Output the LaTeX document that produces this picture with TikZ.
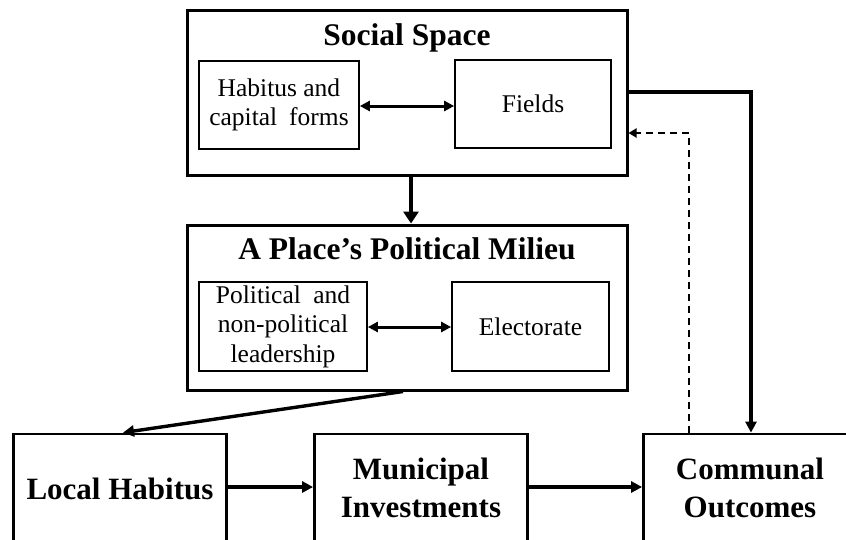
\documentclass[tikz,border=0pt]{standalone}
\usepackage{fontspec}
\setmainfont{Liberation Serif}
\usetikzlibrary{arrows.meta,calc}

\tikzset{
  outerbox/.style={draw, line width=3pt, inner sep=0pt},
  innerbox/.style={draw, line width=1.7pt, inner sep=0pt, align=center,
                   font=\fontsize{25.5}{29.5}\selectfont},
  lowbox/.style={draw, line width=2.8pt, inner sep=0pt, minimum width=213pt,
                 minimum height=126pt},
  titletext/.style={inner sep=0pt, anchor=base, font=\fontsize{31.5}{36}\selectfont\bfseries},
  bigtext/.style={inner sep=0pt, align=center, font=\fontsize{31}{38}\selectfont\bfseries},
  flow/.style={line width=3.4pt, -{Triangle[width=11pt,length=11pt]}},
  both/.style={line width=3pt, {Triangle[width=10pt,length=10pt]}-{Triangle[width=10pt,length=10pt]}},
  bigflow/.style={line width=4.6pt, -{Triangle[width=15pt,length=12pt]}},
  feedback/.style={line width=2pt, dash pattern=on 7pt off 5pt,
                   -{Triangle[width=9pt,length=8pt]}}
}

\begin{document}
\begin{tikzpicture}[x=1pt,y=-1pt]
  \fill[white] (0,0) rectangle (846,539);
  \useasboundingbox (0,0) rectangle (846,539);
  \clip (0,0) rectangle (846,539);

  % upper frame: social space
  \node[outerbox, minimum width=440pt, minimum height=165pt] (ss) at (407,92.5) {};
  \node[titletext] (sstitle) at (407,45) {Social Space};
  \node[innerbox, minimum width=160pt, minimum height=88pt] (hab) at (279,105)
    {Habitus and\\capital\hspace{12pt}forms};
  \node[innerbox, minimum width=156pt, minimum height=88pt] (fields) at (533,104) {Fields};

  % middle frame: political milieu
  \node[outerbox, minimum width=440pt, minimum height=165pt] (mil) at (407,307.5) {};
  \node[titletext] (miltitle) at (407,259) {A Place’s Political Milieu};
  \node[innerbox, minimum width=168pt, minimum height=89pt] (pol) at (283,326.5)
    {Political\hspace{6pt} and\\non-political\\leadership};
  \node[innerbox, minimum width=157pt, minimum height=89pt] (elec) at (530.5,326.5) {Electorate};

  % lower row
  \node[lowbox] (lh) at (120,497) {};
  \node[lowbox] (mun) at (421,497) {};
  \node[lowbox] (com) at (750,497) {};
  \node[titletext, font=\fontsize{31}{38}\selectfont\bfseries] (lhtext) at (120,499) {Local Habitus};
  \node[bigtext] (muntext) at (421,488) {Municipal\\Investments};
  \node[bigtext] (comtext) at (750,488) {Communal\\Outcomes};

  % helper coordinates for routed connectors
  \coordinate (row) at (0,487);
  \coordinate (sturn) at (751,92);
  \coordinate (dturn) at (689,133);

  % connectors
  \draw[both] ($(hab.east)+(0,1)$) -- ($(hab.east -| fields.west)+(0,1)$);
  \draw[both] ($(pol.east)+(0,0.5)$) -- ($(pol.east -| elec.west)+(0,0.5)$);
  \draw[bigflow] ($(ss.south)+(4,0)$) -- ($(mil.north)+(4,0)$);
  \draw[flow] ($(mil.south)+(-4,0)$) -- ($(lh.north)+(3,0)$);
  \draw[flow] (lh.east |- row) -- (mun.west |- row);
  \draw[flow] (mun.east |- row) -- (com.west |- row);
  \draw[flow] (ss.east |- sturn) -- (sturn) -- (sturn |- com.north);
  \draw[feedback] (dturn |- com.north) -- (dturn) -- (ss.east |- dturn);
\end{tikzpicture}
\end{document}
